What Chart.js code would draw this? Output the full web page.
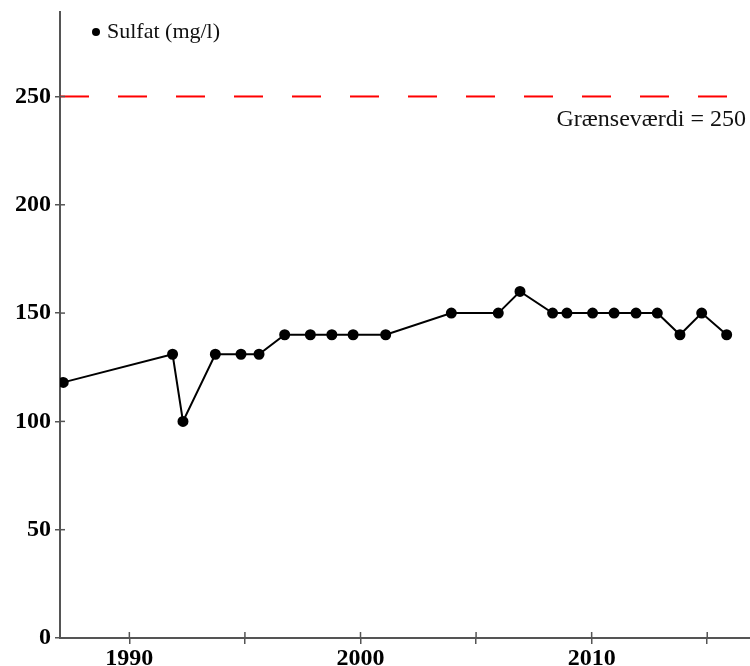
<!DOCTYPE html>
<html>
<head>
<meta charset="utf-8">
<script src="https://cdn.jsdelivr.net/npm/chart.js@4"></script>
<style>
  html, body { margin: 0; padding: 0; background: #fff; }
  #wrap { width: 750px; height: 666px; }
</style>
</head>
<body>
<div id="wrap"><canvas id="sulfatChart"></canvas></div>
<script>
// Sample years (decimal) and sulfate values
const years = [
  1987.14, 1991.87, 1992.32, 1993.72, 1994.83, 1995.61,
  1996.72, 1997.83, 1998.76, 1999.68, 2001.09,
  2003.93, 2005.96, 2006.9, 2008.31, 2008.93,
  2010.04, 2010.97, 2011.92, 2012.84, 2013.82, 2014.76, 2015.84
];
const sulfat = [
  118, 131, 100, 131, 131, 131,
  140, 140, 140, 140, 140,
  150, 150, 160, 150, 150,
  150, 150, 150, 150, 140, 150, 140
];
const limitValue = 250;
const limitLabel = "Grænseværdi = 250";
const seriesLabel = "Sulfat (mg/l)";
const xTicks = [1990, 1995, 2000, 2005, 2010, 2015];
const yTicks = [0, 50, 100, 150, 200, 250];
const xRange = [1987.0, 2016.85];
const yRange = [0, 289];

const points = years.map((y, i) => ({ x: y, y: sulfat[i] }));
const limitLine = [
  { x: xRange[0], y: limitValue },
  { x: xRange[1], y: limitValue },
];

const axisColor = "#555";
const serif = "'Liberation Serif', 'DejaVu Serif', serif";

// draws the inner half of the tick marks, the legend and the limit label
const extras = {
  id: "extras",
  afterDraw(chart) {
    const { ctx, chartArea, scales } = chart;
    ctx.save();
    ctx.strokeStyle = axisColor;
    ctx.lineWidth = 1.5;
    yTicks.forEach((v) => {
      const py = scales.y.getPixelForValue(v);
      ctx.beginPath();
      ctx.moveTo(chartArea.left, py);
      ctx.lineTo(chartArea.left + 5, py);
      ctx.stroke();
    });
    xTicks.forEach((v) => {
      const px = scales.x.getPixelForValue(v);
      ctx.beginPath();
      ctx.moveTo(px, chartArea.bottom);
      ctx.lineTo(px, chartArea.bottom - 6);
      ctx.stroke();
    });

    // legend
    ctx.fillStyle = "#000";
    ctx.beginPath();
    ctx.arc(96, 32, 4, 0, Math.PI * 2);
    ctx.fill();
    ctx.font = "22px " + serif;
    ctx.textBaseline = "middle";
    ctx.textAlign = "left";
    ctx.fillStyle = "#111";
    ctx.fillText(chart.data.datasets[0].label, 107, 32);

    // limit label
    ctx.textAlign = "right";
    ctx.textBaseline = "alphabetic";
    ctx.font = "24px " + serif;
    ctx.fillText(limitLabel, 746, 126);
    ctx.restore();
  },
};

new Chart(document.getElementById("sulfatChart"), {
  type: "line",
  data: {
    datasets: [
      {
        label: seriesLabel,
        data: points,
        borderColor: "#000",
        backgroundColor: "#000",
        borderWidth: 2,
        pointRadius: 4.5,
        pointHoverRadius: 4.5,
        tension: 0,
      },
      {
        label: limitLabel,
        data: limitLine,
        borderColor: "#ff0000",
        borderWidth: 2,
        borderDash: [29, 29],
        pointRadius: 0,
        tension: 0,
      },
    ],
  },
  options: {
    responsive: true,
    maintainAspectRatio: false,
    animation: false,
    layout: { autoPadding: false, padding: { top: 12, right: 0, left: 0, bottom: 0 } },
    plugins: {
      legend: { display: false },
      tooltip: { enabled: false },
    },
    scales: {
      x: {
        type: "linear",
        min: xRange[0],
        max: xRange[1],
        afterBuildTicks: (scale) => {
          scale.ticks = xTicks.map((v) => ({ value: v }));
        },
        afterFit: (scale) => {
          scale.height = 28;
          scale.paddingLeft = 0;
          scale.paddingRight = 0;
        },
        grid: {
          drawOnChartArea: false,
          drawTicks: true,
          tickLength: 6,
          color: axisColor,
          lineWidth: 1.5,
        },
        border: { color: axisColor, width: 2 },
        ticks: {
          autoSkip: false,
          maxRotation: 0,
          padding: 0,
          color: "#000",
          font: { family: serif, size: 24, weight: "bold" },
          callback: (v) => (v % 10 === 0 ? String(v) : ""),
        },
      },
      y: {
        min: yRange[0],
        max: yRange[1],
        afterBuildTicks: (scale) => {
          scale.ticks = yTicks.map((v) => ({ value: v }));
        },
        afterFit: (scale) => {
          scale.width = 60;
          scale.paddingTop = 0;
          scale.paddingBottom = 0;
        },
        grid: {
          drawOnChartArea: false,
          drawTicks: true,
          tickLength: 5,
          color: axisColor,
          lineWidth: 1.5,
        },
        border: { color: axisColor, width: 2 },
        ticks: {
          padding: 4,
          color: "#000",
          font: { family: serif, size: 24, weight: "bold" },
        },
      },
    },
  },
  plugins: [extras],
});
</script>
</body>
</html>
